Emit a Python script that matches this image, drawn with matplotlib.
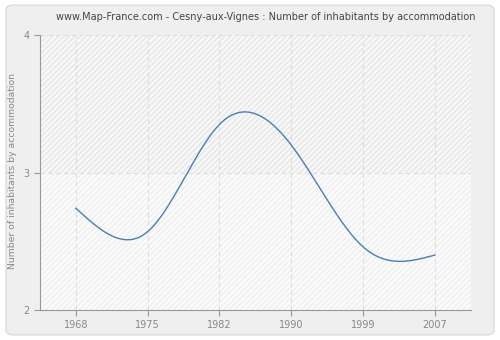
import numpy as np
import matplotlib.pyplot as plt
from matplotlib.patches import Rectangle, FancyBboxPatch

# Census years and average household size
years = ['1968', '1975', '1982', '1990', '1999', '2007']
inhabitants = [2.74, 2.57, 3.35, 3.20, 2.46, 2.40]
y_ticks = [2, 3, 4]


def natural_spline(x, y, n=400):
    # plain natural cubic spline through the points, for the smooth line
    x = np.asarray(x, float)
    y = np.asarray(y, float)
    k = len(x)
    h = np.diff(x)
    A = np.zeros((k, k))
    b = np.zeros(k)
    A[0, 0] = A[-1, -1] = 1
    for i in range(1, k - 1):
        A[i, i - 1] = h[i - 1]
        A[i, i] = 2 * (h[i - 1] + h[i])
        A[i, i + 1] = h[i]
        b[i] = 3 * ((y[i + 1] - y[i]) / h[i] - (y[i] - y[i - 1]) / h[i - 1])
    c = np.linalg.solve(A, b)
    xs = np.linspace(x[0], x[-1], n)
    idx = np.clip(np.searchsorted(x, xs) - 1, 0, k - 2)
    dx = xs - x[idx]
    bb = (y[idx + 1] - y[idx]) / h[idx] - h[idx] * (2 * c[idx] + c[idx + 1]) / 3
    dd = (c[idx + 1] - c[idx]) / (3 * h[idx])
    ys = y[idx] + bb * dx + c[idx] * dx ** 2 + dd * dx ** 3
    return xs, ys


fig = plt.figure(figsize=(5, 3.4), dpi=100, facecolor='white')
fig.patches.append(FancyBboxPatch((0.012, 0.015), 0.976, 0.97,
                                  boxstyle='round,pad=0,rounding_size=0.015',
                                  transform=fig.transFigure, facecolor='#efefef',
                                  edgecolor='#dcdcdc', linewidth=1, zorder=-10))

ax = fig.add_axes([0.08, 0.088, 0.8614, 0.809])
ax.set_facecolor('none')
x_idx = np.arange(len(years))

# hatched bands behind the plot
ax.add_patch(Rectangle((-0.5, 3), 6, 1, facecolor='#f8f8f8', edgecolor='#e6e6e6',
                       hatch='//////', linewidth=0, zorder=0))
ax.add_patch(Rectangle((-0.5, 2), 6, 1, facecolor='#fbfbfb', edgecolor='#efefef',
                       hatch='//////', linewidth=0, zorder=0))

xs, ys = natural_spline(x_idx, inhabitants)
ax.plot(xs, ys, color='#4d7db5', linewidth=1, zorder=3)

ax.set_xlim(-0.5, 5.5)
ax.set_ylim(2, 4)
ax.set_xticks(x_idx)
ax.set_xticklabels(years)
ax.set_yticks(y_ticks)
ax.grid(True, color='#dddddd', linestyle=(0, (4, 3)), linewidth=0.8, zorder=1)

for side in ['top', 'right']:
    ax.spines[side].set_visible(False)
for side in ['left', 'bottom']:
    ax.spines[side].set_color('#999999')
ax.tick_params(colors='#999999', labelcolor='#888888', labelsize=7, length=4, width=0.8)

fig.text(0.026, 0.497, 'Number of inhabitants by accommodation', color='#888888',
         fontsize=6.7, rotation=90, ha='center', va='center')
fig.text(0.532, 0.95, 'www.Map-France.com - Cesny-aux-Vignes : Number of inhabitants by accommodation',
         fontsize=7, color='#444444', ha='center', va='center')

plt.savefig('out.png', dpi=100)
